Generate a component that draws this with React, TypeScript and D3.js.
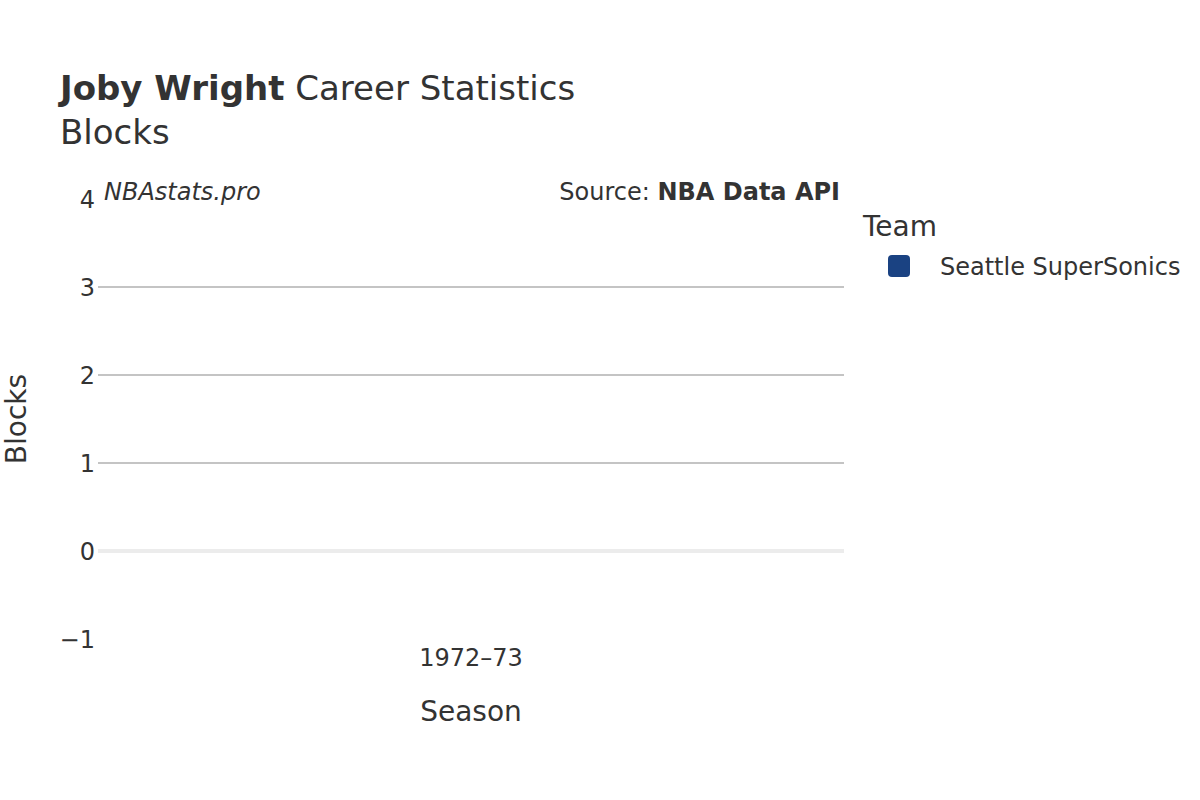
import React from 'react';
import * as d3 from 'd3';

const seasons: string[] = ['1972–73'];
const blocks: number[] = [0];
const teams: string[] = ['Seattle SuperSonics'];
const teamColors: string[] = ['#1a4282'];
const yTicks: number[] = [-1, 0, 1, 2, 3, 4];

const W = 1200;
const H = 800;
const margin = { top: 199, right: 356, bottom: 161, left: 98 };
const FONT = '"DejaVu Sans", sans-serif';
const TEXT = '#333333';

const App: React.FC = () => {
  const x = d3
    .scaleBand<string>()
    .domain(seasons)
    .range([margin.left, W - margin.right])
    .padding(0.2);

  const y = d3
    .scaleLinear()
    .domain([-1, 4])
    .range([H - margin.bottom, margin.top]);

  const color = d3.scaleOrdinal<string, string>().domain(teams).range(teamColors);

  return (
    <div style={{ position: 'absolute', left: 0, top: 0 }}>
      <svg width={W} height={H} style={{ display: 'block', background: '#fff' }} fontFamily={FONT}>
        {/* grid */}
        {yTicks
          .filter((t) => t > 0 && t < 4)
          .map((t) => (
            <line key={t} x1={margin.left} x2={W - margin.right} y1={y(t)} y2={y(t)} stroke="#c4c4c4" strokeWidth={2} />
          ))}
        <line x1={margin.left} x2={W - margin.right} y1={y(0)} y2={y(0)} stroke="#ececec" strokeWidth={4} />

        {/* bars */}
        {seasons.map((s, i) => {
          const v = blocks[i];
          return (
            <rect
              key={s}
              x={x(s)!}
              width={x.bandwidth()}
              y={Math.min(y(v), y(0))}
              height={Math.abs(y(0) - y(v))}
              fill={color(teams[0])}
            />
          );
        })}

        {/* y ticks */}
        {yTicks.map((t) => (
          <text key={t} x={margin.left - 3} y={y(t)} dy="0.36em" textAnchor="end" fontSize={24} fill={TEXT}>
            {t < 0 ? `−${Math.abs(t)}` : t}
          </text>
        ))}

        {/* x ticks */}
        {seasons.map((s) => (
          <text key={s} x={x(s)! + x.bandwidth() / 2} y={666} textAnchor="middle" fontSize={24} fill={TEXT}>
            {s}
          </text>
        ))}

        {/* axis titles */}
        <text x={(margin.left + W - margin.right) / 2} y={721} textAnchor="middle" fontSize={28} fill={TEXT}>
          Season
        </text>
        <text
          transform={`translate(26,${(y(4) + y(-1)) / 2}) rotate(-90)`}
          textAnchor="middle"
          fontSize={28}
          fill={TEXT}
        >
          Blocks
        </text>

        {/* title */}
        <text x={60} y={100} fontSize={34} fill={TEXT}>
          <tspan fontWeight="bold">Joby Wright</tspan>
          <tspan> Career Statistics</tspan>
        </text>
        <text x={60} y={144} fontSize={34} fill={TEXT}>
          Blocks
        </text>

        {/* annotations */}
        <text x={104} y={200} fontSize={24} fontStyle="italic" fill={TEXT}>
          NBAstats.pro
        </text>
        <text x={840} y={200} textAnchor="end" fontSize={24} fill={TEXT}>
          <tspan>Source: </tspan>
          <tspan fontWeight="bold">NBA Data API</tspan>
        </text>

        {/* legend */}
        <text x={863} y={236} fontSize={28} fill={TEXT}>
          Team
        </text>
        {teams.map((t, i) => (
          <g key={t} transform={`translate(0,${i * 30})`}>
            <rect x={888} y={255} width={22} height={22} rx={4} fill={color(t)} />
            <text x={940} y={266} dy="0.36em" fontSize={24} fill={TEXT}>
              {t}
            </text>
          </g>
        ))}
      </svg>
    </div>
  );
};

export default App;
